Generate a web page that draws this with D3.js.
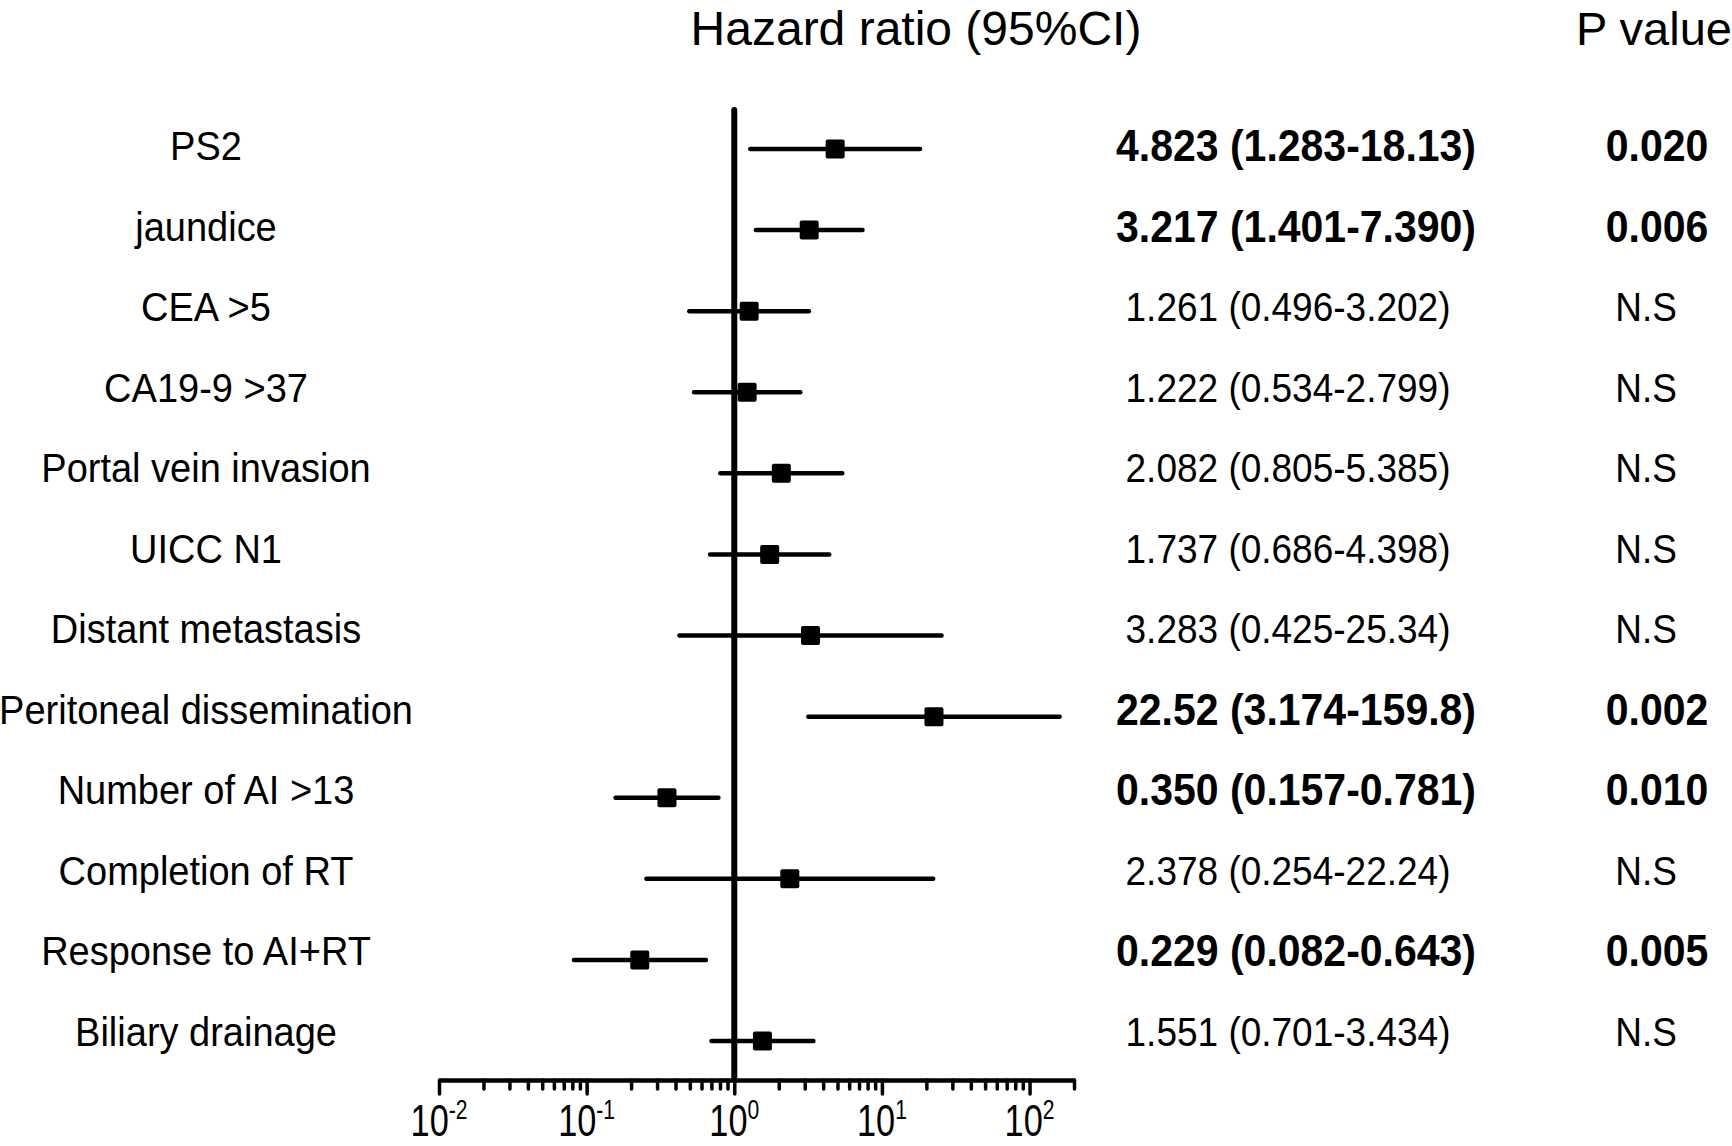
<!DOCTYPE html>
<html lang="en">
<head>
    <meta charset="UTF-8">
    <title>Hazard ratio forest plot</title>
    <script src="https://d3js.org/d3.v7.min.js"></script>
    <style>
        body { margin: 0; background: #fff; }
        svg { display: block; font-family: "Liberation Sans", Arial, sans-serif; }
    </style>
</head>
<body>
    <div id="chart"></div>
    <script>
        // data
        const labels = ["PS2", "jaundice", "CEA >5", "CA19-9 >37", "Portal vein invasion", "UICC N1",
            "Distant metastasis", "Peritoneal dissemination", "Number of AI >13", "Completion of RT",
            "Response to AI+RT", "Biliary drainage"];
        const hr = [4.823, 3.217, 1.261, 1.222, 2.082, 1.737, 3.283, 22.52, 0.350, 2.378, 0.229, 1.551];
        const lower = [1.283, 1.401, 0.496, 0.534, 0.805, 0.686, 0.425, 3.174, 0.157, 0.254, 0.082, 0.701];
        const upper = [18.13, 7.390, 3.202, 2.799, 5.385, 4.398, 25.34, 159.8, 0.781, 22.24, 0.643, 3.434];
        const pValues = ["0.020", "0.006", "N.S", "N.S", "N.S", "N.S", "N.S", "0.002", "0.010", "N.S", "0.005", "N.S"];
        const majorTicks = [0.01, 0.1, 1, 10, 100];
        const tickExponents = ["-2", "-1", "0", "1", "2"];

        const width = 1732, height = 1146;
        const axisY = 1080;
        const stretch = 1.08; // the original text is a little taller than plain Arial

        const rows = labels.map((name, i) => ({
            name, hr: hr[i], lo: lower[i], hi: upper[i], p: pValues[i], sig: pValues[i] !== "N.S"
        }));

        const fmt = v => v < 10 ? v.toFixed(3) : v.toPrecision(4);

        const svg = d3.select('#chart').append('svg')
            .attr('width', width)
            .attr('height', height);

        const x = d3.scaleLog().domain([0.01, 200]).range([439, 1074]);
        const yMark = d3.scalePoint().domain(labels).range([149, 1041]);
        const yText = d3.scalePoint().domain(labels).range([145, 1031]);

        // minor ticks 2..9 of every decade, plus the end of the axis
        const minorTicks = [];
        majorTicks.slice(0, 4).forEach(d => { for (let k = 2; k <= 9; k++) minorTicks.push(d * k); });
        minorTicks.push(200);

        const minorAxis = svg.append('g')
            .attr('transform', `translate(0,${axisY})`)
            .call(d3.axisBottom(x).tickValues(minorTicks).tickSize(9).tickSizeOuter(0).tickFormat(''));
        const majorAxis = svg.append('g')
            .attr('transform', `translate(0,${axisY})`)
            .call(d3.axisBottom(x).tickValues(majorTicks).tickSize(14).tickSizeOuter(0).tickFormat(''));
        [minorAxis, majorAxis].forEach(g => {
            g.selectAll('.tick line').attr('stroke', '#000').attr('stroke-width', 3.5).attr('stroke-linecap', 'round');
            g.select('.domain').attr('stroke', '#000').attr('stroke-width', 4);
        });

        // tick labels 10^n, condensed like the original
        const tickLabels = svg.append('g').selectAll('g')
            .data(majorTicks)
            .join('g')
            .attr('transform', d => `translate(${x(d)},1136) scale(0.78,1)`);
        const tl = tickLabels.append('text')
            .attr('text-anchor', 'middle')
            .attr('font-size', 44)
            .attr('fill', '#000');
        tl.append('tspan').text('10');
        tl.append('tspan')
            .attr('font-size', 27)
            .attr('dy', -17)
            .text((d, i) => tickExponents[i]);

        // reference line at HR = 1
        svg.append('line')
            .attr('x1', x(1)).attr('x2', x(1))
            .attr('y1', 110).attr('y2', axisY)
            .attr('stroke', '#000')
            .attr('stroke-width', 6)
            .attr('stroke-linecap', 'round');

        // confidence intervals
        svg.append('g').selectAll('line')
            .data(rows)
            .join('line')
            .attr('x1', d => x(d.lo))
            .attr('x2', d => x(d.hi))
            .attr('y1', d => yMark(d.name))
            .attr('y2', d => yMark(d.name))
            .attr('stroke', '#000')
            .attr('stroke-width', 4.5)
            .attr('stroke-linecap', 'round');

        // point estimates
        const sq = 19;
        svg.append('g').selectAll('rect')
            .data(rows)
            .join('rect')
            .attr('x', d => x(d.hr) - sq / 2)
            .attr('y', d => yMark(d.name) - sq / 2)
            .attr('width', sq)
            .attr('height', sq)
            .attr('rx', 2)
            .attr('fill', '#000');

        // row labels
        svg.append('g').selectAll('text')
            .data(rows)
            .join('text')
            .attr('transform', d => `translate(206,${yText(d.name) + 15}) scale(1,${stretch})`)
            .attr('text-anchor', 'middle')
            .attr('font-size', 38)
            .attr('fill', '#000')
            .text(d => d.name);

        // HR (95% CI) column
        svg.append('g').selectAll('text')
            .data(rows)
            .join('text')
            .attr('transform', d => `translate(${d.sig ? 1296 : 1288},${yText(d.name) + (d.sig ? 16 : 15)}) scale(1,${stretch})`)
            .attr('text-anchor', 'middle')
            .attr('font-size', d => d.sig ? 41 : 37)
            .attr('font-weight', d => d.sig ? 'bold' : 'normal')
            .attr('fill', '#000')
            .text(d => `${fmt(d.hr)} (${fmt(d.lo)}-${fmt(d.hi)})`);

        // P value column
        svg.append('g').selectAll('text')
            .data(rows)
            .join('text')
            .attr('transform', d => `translate(${d.sig ? 1657 : 1646},${yText(d.name) + (d.sig ? 16 : 15)}) scale(1,${stretch})`)
            .attr('text-anchor', 'middle')
            .attr('font-size', d => d.sig ? 41 : 37)
            .attr('font-weight', d => d.sig ? 'bold' : 'normal')
            .attr('fill', '#000')
            .text(d => d.p);

        // headers
        svg.append('text')
            .attr('x', 916).attr('y', 45)
            .attr('text-anchor', 'middle')
            .attr('font-size', 48)
            .text('Hazard ratio (95%CI)');
        svg.append('text')
            .attr('x', 1576).attr('y', 45)
            .attr('font-size', 47)
            .text('P value');
    </script>
</body>
</html>
